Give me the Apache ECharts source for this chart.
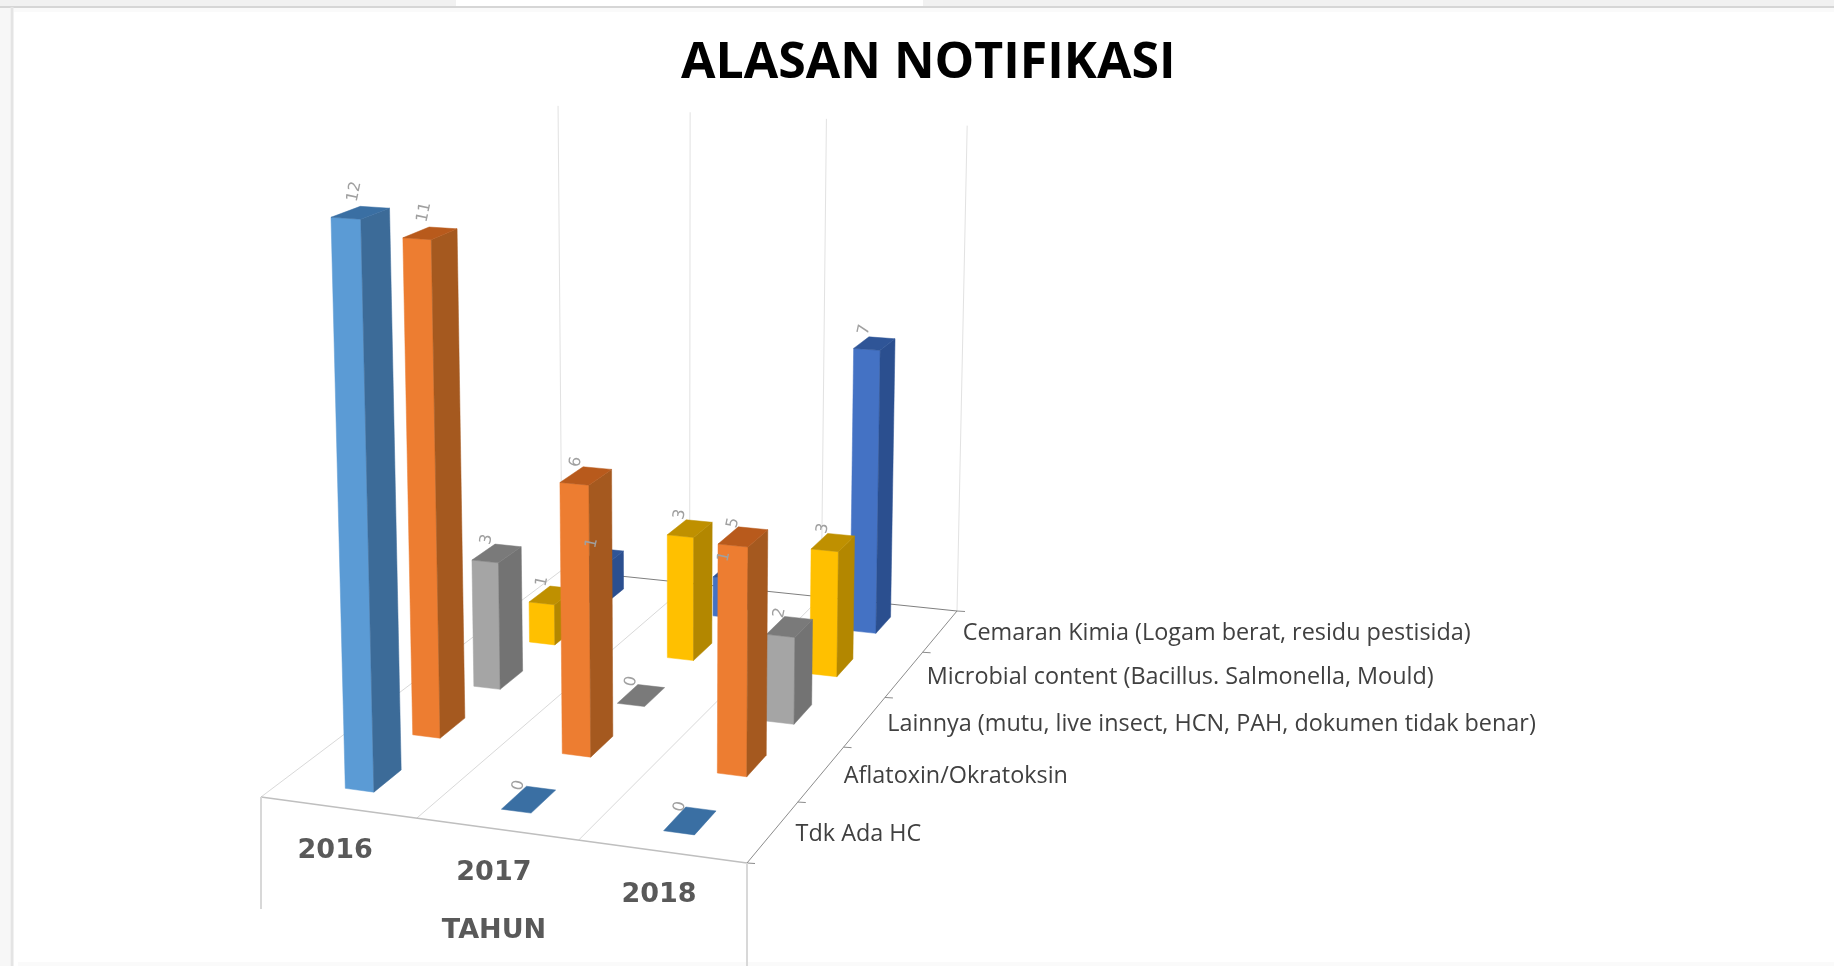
<!DOCTYPE html>
<html>
<head>
<meta charset="utf-8">
<title>Alasan Notifikasi</title>
<script src="https://cdn.jsdelivr.net/npm/echarts@6/dist/echarts.min.js"></script>
<style>
	html,body{margin:0;padding:0;background:#fff}
	#main{width:1834px;height:966px}
</style>
</head>
<body>
<div id="main"></div>
<script>
//	data
var years = ['2016', '2017', '2018'];
var reasons = [
	'Tdk Ada HC',
	'Aflatoxin/Okratoksin',
	'Lainnya (mutu, live insect, HCN, PAH, dokumen tidak benar)',
	'Microbial content (Bacillus. Salmonella, Mould)',
	'Cemaran Kimia (Logam berat, residu pestisida)'
];
var tdkAdaHc = [12, 0, 0];
var aflatoxin = [11, 6, 5];
var lainnya = [3, 0, 2];
var microbial = [1, 3, 3];
var cemaran = [1, 1, 7];

//	colours: front, side, top
var shades = [
	['#5b9bd5', '#3c6b98', '#3a6fa3'],
	['#ed7d31', '#a5591f', '#b85a1c'],
	['#a5a5a5', '#737373', '#7a7a7a'],
	['#ffc000', '#b38700', '#bf9000'],
	['#4472c4', '#2b4f8f', '#2f5597']
];
var rows = [tdkAdaHc, aflatoxin, lainnya, microbial, cemaran];

//	floor corners of the Excel 3D chart on screen, and its vertical vanishing point
var FL = [261, 797], FR = [747, 863], BR = [957, 611], BL = [562, 570];
var VP = [676, 14000];
var K = 0.00348;
var BAR_U = 0.062, BAR_V = 0.08, WALL_TOP = 12.1;

//	square -> quad
var dx1 = FR[0] - BR[0], dx2 = BL[0] - BR[0], sx = FL[0] - FR[0] + BR[0] - BL[0];
var dy1 = FR[1] - BR[1], dy2 = BL[1] - BR[1], sy = FL[1] - FR[1] + BR[1] - BL[1];
var det = dx1 * dy2 - dx2 * dy1;
var g = (sx * dy2 - dx2 * sy) / det;
var h = (dx1 * sy - sx * dy1) / det;
var a = FR[0] - FL[0] + g * FR[0], b = BL[0] - FL[0] + h * BL[0];
var d = FR[1] - FL[1] + g * FR[1], e = BL[1] - FL[1] + h * BL[1];

//	u along years, v into depth, y in axis value units
function project(u, v, y) {
	var w = g * u + h * v + 1 - K * y;
	return [
		(a * u + b * v + FL[0] - K * y * VP[0]) / w,
		(d * u + e * v + FL[1] - K * y * VP[1]) / w
	];
}
function rowDepth(r) {
	return (r + 0.5) / reasons.length;
}
//	read u and value back through the hidden grid's scales
function toWorld(params, api, cat, val) {
	var cs = params.coordSys;
	var p = api.coord([cat, val]);
	return {
		u: (p[0] - cs.x) / cs.width,
		y: (cs.y + cs.height - p[1]) / cs.height * 12
	};
}
function poly(pts, color) {
	return {
		type: 'polygon',
		shape: { points: pts },
		style: { fill: color, stroke: color, lineWidth: 0.5 }
	};
}
function line(p, q, color, width) {
	return {
		type: 'line',
		shape: { x1: p[0], y1: p[1], x2: q[0], y2: q[1] },
		style: { stroke: color, lineWidth: width || 1 }
	};
}
function txt(text, x, y, font, color, align) {
	return {
		type: 'text',
		x: x,
		y: y,
		style: { text: text, font: font, fill: color, align: align || 'center', verticalAlign: 'middle' }
	};
}

function renderBar(r) {
	return function (params, api) {
		var c = api.value(0), val = api.value(1);
		var wd = toWorld(params, api, c, val);
		var v = rowDepth(r);
		var u0 = wd.u - BAR_U / 2, u1 = wd.u + BAR_U / 2;
		var v0 = v - BAR_V / 2, v1 = v + BAR_V / 2;
		var s = shades[r];
		var top = [project(u0, v0, wd.y), project(u1, v0, wd.y), project(u1, v1, wd.y), project(u0, v1, wd.y)];
		var kids = [];
		if (val > 0) {
			kids.push(poly([project(u0, v0, 0), project(u1, v0, 0), top[1], top[0]], s[0]));
			kids.push(poly([project(u1, v0, 0), project(u1, v1, 0), top[2], top[1]], s[1]));
		}
		kids.push(poly(top, s[2]));
		return { type: 'group', children: kids };
	};
}

function renderFrame(params, api) {
	var kids = [];
	var i;
	//	wall lines
	for (i = 0; i <= years.length; i++) {
		var u = i / years.length;
		kids.push(line(project(u, 1, 0), project(u, 1, WALL_TOP), '#e2e2e2'));
		if (i > 0 && i < years.length) kids.push(line(project(u, 0, 0), project(u, 1, 0), '#d9d9d9'));
	}
	kids.push(line(FL, BL, '#d9d9d9'));
	kids.push(line(FL, FR, '#bfbfbf', 1.5));
	kids.push(line(FR, BR, '#8c8c8c'));
	kids.push(line(BL, BR, '#7f7f7f'));
	//	ticks on depth axis
	for (i = 0; i <= reasons.length; i++) {
		var t = project(1, i / reasons.length, 0);
		kids.push(line(t, [t[0] + 8, t[1] + 0.5], '#8c8c8c'));
	}
	//	multi level category plate
	kids.push(line(FL, [FL[0], FL[1] + 112], '#d8d8d8', 2));
	kids.push(line(FR, [FR[0], FR[1] + 103], '#d8d8d8', 2));
	return { type: 'group', children: kids };
}

function renderText(params, api) {
	var kids = [];
	var i;
	for (i = 0; i < reasons.length; i++) {
		var p = project(1, rowDepth(i), 0);
		kids.push(txt(reasons[i], p[0] + 22.5, p[1] + 2.5, '23.4px "Open Sans"', '#404040', 'left'));
	}
	for (i = 0; i < years.length; i++) {
		var q = project((i + 0.5) / years.length, 0, 0);
		kids.push(txt(years[i], q[0] - 3, q[1] + 44, 'bold 27px "DejaVu Sans"', '#595959'));
	}
	kids.push(txt('TAHUN', 494, 931, 'bold 27px "DejaVu Sans"', '#595959'));
	return { type: 'group', children: kids };
}

function renderLabel(params, api) {
	var r = api.value(0), c = api.value(1), val = api.value(2);
	var wd = toWorld(params, api, c, val);
	var p = project(wd.u, rowDepth(r), wd.y);
	var longer = String(val).length - 1;
	return {
		type: 'text',
		x: p[0] - 10 + longer * 4,
		y: p[1] - 14 - longer * 7,
		rotation: 78 * Math.PI / 180,
		style: {
			text: String(val),
			font: '16px "DejaVu Sans"',
			fill: '#a0a0a0',
			align: 'center',
			verticalAlign: 'middle'
		}
	};
}

var barSeries = [];
for (var r = reasons.length - 1; r >= 0; r--) {
	barSeries.push({
		name: reasons[r],
		type: 'custom',
		coordinateSystem: 'cartesian2d',
		renderItem: renderBar(r),
		data: rows[r].map(function (v, i) { return [i, v]; }),
		encode: { x: 0, y: 1 },
		z: 10 + reasons.length - r,
		clip: false
	});
}

var labelData = [];
rows.forEach(function (vals, r) {
	vals.forEach(function (v, c) { labelData.push([r, c, v]); });
});

var chart = echarts.init(document.getElementById('main'));
chart.setOption({
	backgroundColor: '#fff',
	animation: false,
	title: {
		text: 'ALASAN NOTIFIKASI',
		left: 676,
		top: 34,
		textStyle: { fontFamily: 'Open Sans', fontWeight: 'bold', fontSize: 50, color: '#000' }
	},
	tooltip: { show: false },
	grid: { left: 0, right: 0, top: 0, bottom: 0 },
	xAxis: { type: 'category', data: years, show: false },
	yAxis: { type: 'value', min: 0, max: 12, show: false },
	graphic: [
		//	slide frame around the pasted chart
		{ type: 'rect', shape: { x: 0, y: 0, width: 456, height: 6 }, style: { fill: '#f1f1f1' } },
		{ type: 'rect', shape: { x: 923, y: 0, width: 911, height: 6 }, style: { fill: '#f1f1f1' } },
		{ type: 'rect', shape: { x: 0, y: 6, width: 10, height: 960 }, style: { fill: '#f7f7f7' } },
		{ type: 'rect', shape: { x: 14, y: 8, width: 1820, height: 4 }, style: { fill: '#fafafa' } },
		{ type: 'rect', shape: { x: 18, y: 962, width: 1816, height: 4 }, style: { fill: '#fafafa' } },
		{ type: 'line', shape: { x1: 0, y1: 7, x2: 1834, y2: 7 }, style: { stroke: '#d6d6d6', lineWidth: 2 } },
		{ type: 'line', shape: { x1: 12, y1: 7, x2: 12, y2: 966 }, style: { stroke: '#e4e4e4', lineWidth: 3 } }
	],
	series: [{
		type: 'custom',
		renderItem: renderFrame,
		data: [[0, 0]],
		z: 5,
		clip: false
	}].concat(barSeries).concat([{
		type: 'custom',
		renderItem: renderText,
		data: [[0, 0]],
		z: 30,
		clip: false
	}, {
		type: 'custom',
		renderItem: renderLabel,
		data: labelData,
		encode: { x: 1, y: 2 },
		z: 31,
		clip: false
	}])
});
</script>
</body>
</html>
